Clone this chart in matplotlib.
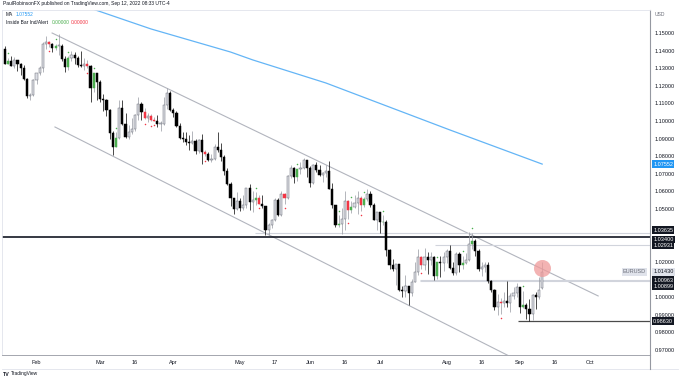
import matplotlib
matplotlib.use("Agg")
import matplotlib.pyplot as plt
from matplotlib.lines import Line2D
from matplotlib.patches import Rectangle

plt.rcParams["font.family"] = ["Liberation Sans", "DejaVu Sans"]

# --------------------------------------------------
# EURUSD daily, Jan 18 2022 -> Sep 12 2022 (bar index 0..169)
# --------------------------------------------------

opens = [
    1.1410, 1.1326, 1.1343, 1.1311, 1.1345, 1.1325, 1.1303, 1.1240, 1.1144, 1.1145,
    1.1235, 1.1272, 1.1301, 1.1440, 1.1450, 1.1440, 1.1415, 1.1425, 1.1425, 1.1350,
    1.1305, 1.1360, 1.1375, 1.1360, 1.1320, 1.1310, 1.1325, 1.1310, 1.1190, 1.1270,
    1.1220, 1.1125, 1.1120, 1.1065, 1.0930, 1.0855, 1.0905, 1.1075, 1.0985, 1.0910,
    1.0940, 1.0955, 1.1035, 1.1095, 1.1050, 1.1015, 1.1030, 1.1005, 1.1000, 1.0985,
    1.0985, 1.1090, 1.1160, 1.1065, 1.1045, 1.0970, 1.0905, 1.0900, 1.0880, 1.0875,
    1.0885, 1.0830, 1.0890, 1.0825, 1.0810, 1.0780, 1.0785, 1.0850, 1.0835, 1.0795,
    1.0715, 1.0640, 1.0560, 1.0500, 1.0545, 1.0505, 1.0525, 1.0620, 1.0540, 1.0550,
    1.0560, 1.0530, 1.0515, 1.0380, 1.0410, 1.0435, 1.0550, 1.0465, 1.0585, 1.0560,
    1.0690, 1.0735, 1.0680, 1.0725, 1.0735, 1.0780, 1.0735, 1.0650, 1.0750, 1.0720,
    1.0695, 1.0705, 1.0715, 1.0615, 1.0520, 1.0410, 1.0415, 1.0445, 1.0545, 1.0495,
    1.0510, 1.0535, 1.0565, 1.0520, 1.0555, 1.0585, 1.0520, 1.0440, 1.0485, 1.0425,
    1.0428, 1.0265, 1.0180, 1.0160, 1.0185, 1.0040, 1.0035, 1.0060, 1.0020, 1.0085,
    1.0140, 1.0225, 1.0180, 1.0230, 1.0210, 1.0225, 1.0120, 1.0200, 1.0195, 1.0225,
    1.0260, 1.0165, 1.0135, 1.0245, 1.0180, 1.0195, 1.0210, 1.0300, 1.0320, 1.0260,
    1.0160, 1.0170, 1.0180, 1.0090, 1.0040, 0.9945, 0.9970, 0.9965, 0.9975, 0.9965,
    1.0005, 1.0020, 1.0055, 0.9945, 0.9955, 0.9930, 0.9905, 1.0010, 1.0000, 1.0050,
]
highs = [
    1.1428, 1.1360, 1.1369, 1.1362, 1.1347, 1.1330, 1.1317, 1.1247, 1.1159, 1.1240,
    1.1273, 1.1310, 1.1449, 1.1484, 1.1453, 1.1443, 1.1440, 1.1495, 1.1440, 1.1370,
    1.1367, 1.1395, 1.1393, 1.1372, 1.1395, 1.1360, 1.1345, 1.1320, 1.1275, 1.1275,
    1.1235, 1.1152, 1.1125, 1.1070, 1.0945, 1.0935, 1.1120, 1.1120, 1.1045, 1.0980,
    1.1015, 1.1040, 1.1135, 1.1110, 1.1075, 1.1045, 1.1040, 1.1025, 1.1035, 1.1000,
    1.1135, 1.1185, 1.1170, 1.1075, 1.1055, 1.0990, 1.0935, 1.0935, 1.0920, 1.0945,
    1.0900, 1.0900, 1.0925, 1.0835, 1.0825, 1.0815, 1.0870, 1.0936, 1.0875, 1.0805,
    1.0735, 1.0655, 1.0565, 1.0595, 1.0560, 1.0580, 1.0620, 1.0640, 1.0605, 1.0595,
    1.0580, 1.0580, 1.0515, 1.0420, 1.0445, 1.0560, 1.0565, 1.0600, 1.0590, 1.0695,
    1.0750, 1.0740, 1.0730, 1.0765, 1.0787, 1.0780, 1.0745, 1.0755, 1.0765, 1.0750,
    1.0710, 1.0750, 1.0775, 1.0645, 1.0525, 1.0465, 1.0505, 1.0600, 1.0550, 1.0545,
    1.0580, 1.0605, 1.0575, 1.0570, 1.0615, 1.0605, 1.0535, 1.0485, 1.0485, 1.0465,
    1.0435, 1.0275, 1.0215, 1.0190, 1.0190, 1.0065, 1.0125, 1.0065, 1.0100, 1.0200,
    1.0270, 1.0235, 1.0280, 1.0255, 1.0255, 1.0235, 1.0200, 1.0235, 1.0255, 1.0275,
    1.0295, 1.0200, 1.0255, 1.0255, 1.0235, 1.0250, 1.0368, 1.0365, 1.0330, 1.0270,
    1.0200, 1.0200, 1.0200, 1.0095, 1.0045, 1.0015, 0.9995, 1.0030, 1.0090, 1.0025,
    1.0055, 1.0080, 1.0055, 1.0035, 0.9965, 0.9990, 1.0015, 1.0030, 1.0112, 1.0198,
]
lows = [
    1.1323, 1.1325, 1.1310, 1.1302, 1.1286, 1.1263, 1.1235, 1.1133, 1.1121, 1.1140,
    1.1213, 1.1262, 1.1280, 1.1411, 1.1420, 1.1390, 1.1403, 1.1375, 1.1341, 1.1280,
    1.1290, 1.1340, 1.1325, 1.1305, 1.1305, 1.1290, 1.1300, 1.1106, 1.1165, 1.1120,
    1.1110, 1.1058, 1.1030, 1.0900, 1.0806, 1.0850, 1.0900, 1.0980, 1.0905, 1.0900,
    1.0925, 1.0945, 1.1005, 1.1005, 1.1010, 1.0995, 1.0998, 1.1000, 1.0965, 1.0945,
    1.0975, 1.1070, 1.1055, 1.1025, 1.0965, 1.0900, 1.0880, 1.0865, 1.0835, 1.0870,
    1.0810, 1.0820, 1.0757, 1.0800, 1.0770, 1.0765, 1.0780, 1.0825, 1.0770, 1.0695,
    1.0635, 1.0515, 1.0470, 1.0495, 1.0490, 1.0495, 1.0505, 1.0495, 1.0485, 1.0525,
    1.0530, 1.0505, 1.0355, 1.0350, 1.0390, 1.0430, 1.0460, 1.0460, 1.0530, 1.0555,
    1.0675, 1.0645, 1.0660, 1.0700, 1.0730, 1.0680, 1.0625, 1.0640, 1.0710, 1.0690,
    1.0655, 1.0680, 1.0615, 1.0505, 1.0395, 1.0400, 1.0358, 1.0380, 1.0445, 1.0475,
    1.0505, 1.0470, 1.0490, 1.0510, 1.0545, 1.0510, 1.0440, 1.0380, 1.0365, 1.0410,
    1.0235, 1.0160, 1.0145, 1.0070, 1.0035, 0.9998, 0.9999, 0.9952, 1.0005, 1.0085,
    1.0125, 1.0160, 1.0155, 1.0130, 1.0180, 1.0095, 1.0100, 1.0115, 1.0145, 1.0195,
    1.0160, 1.0125, 1.0125, 1.0140, 1.0160, 1.0185, 1.0205, 1.0275, 1.0235, 1.0150,
    1.0120, 1.0140, 1.0080, 1.0030, 0.9925, 0.9900, 0.9905, 0.9945, 0.9945, 0.9915,
    0.9990, 1.0000, 0.9910, 0.9935, 0.9877, 0.9863, 0.9870, 0.9930, 0.9990, 1.0046,
]
closes = [
    1.1326, 1.1343, 1.1311, 1.1345, 1.1325, 1.1303, 1.1240, 1.1144, 1.1145, 1.1235,
    1.1272, 1.1301, 1.1440, 1.1450, 1.1440, 1.1415, 1.1425, 1.1425, 1.1350, 1.1305,
    1.1360, 1.1375, 1.1360, 1.1320, 1.1310, 1.1325, 1.1310, 1.1190, 1.1270, 1.1220,
    1.1125, 1.1120, 1.1065, 1.0930, 1.0855, 1.0905, 1.1075, 1.0985, 1.0910, 1.0940,
    1.0955, 1.1035, 1.1095, 1.1050, 1.1015, 1.1030, 1.1005, 1.1000, 1.0985, 1.0985,
    1.1090, 1.1160, 1.1065, 1.1045, 1.0970, 1.0905, 1.0900, 1.0880, 1.0875, 1.0885,
    1.0830, 1.0890, 1.0825, 1.0810, 1.0780, 1.0785, 1.0850, 1.0835, 1.0795, 1.0715,
    1.0640, 1.0560, 1.0500, 1.0545, 1.0505, 1.0525, 1.0620, 1.0540, 1.0550, 1.0560,
    1.0530, 1.0515, 1.0380, 1.0410, 1.0435, 1.0550, 1.0465, 1.0585, 1.0560, 1.0690,
    1.0735, 1.0680, 1.0725, 1.0735, 1.0780, 1.0735, 1.0650, 1.0750, 1.0720, 1.0695,
    1.0705, 1.0715, 1.0615, 1.0520, 1.0410, 1.0415, 1.0445, 1.0545, 1.0495, 1.0510,
    1.0535, 1.0565, 1.0520, 1.0555, 1.0585, 1.0520, 1.0440, 1.0485, 1.0425, 1.0428,
    1.0265, 1.0180, 1.0160, 1.0185, 1.0040, 1.0035, 1.0060, 1.0020, 1.0085, 1.0140,
    1.0225, 1.0180, 1.0230, 1.0210, 1.0225, 1.0120, 1.0200, 1.0195, 1.0225, 1.0260,
    1.0165, 1.0135, 1.0245, 1.0180, 1.0195, 1.0210, 1.0300, 1.0320, 1.0260, 1.0160,
    1.0170, 1.0180, 1.0090, 1.0040, 0.9945, 0.9970, 0.9965, 0.9975, 0.9965, 1.0005,
    1.0020, 1.0055, 0.9945, 0.9955, 0.9930, 0.9905, 1.0010, 1.0000, 1.0040, 1.0143,
]

tick_pos = [10, 30, 41, 53, 74, 85, 96, 107, 118, 139, 150, 162, 173, 184]
tick_labels = ["Feb", "Mar", "16", "Apr", "May", "17", "Jun", "16", "Jul",
               "Aug", "16", "Sep", "16", "Oct"]

price_ticks = [1.15, 1.14, 1.13, 1.12, 1.11, 1.10, 1.09, 1.08, 1.07, 1.06,
               1.05, 1.02, 1.00, 0.99, 0.98, 0.97]

# 200-day MA
ma_x = [23, 46, 71, 78, 101, 140, 169]
ma_y = [1.1665, 1.1523, 1.1392, 1.1347, 1.1216, 1.0949, 1.07552]

# channel drawn by the author
upper_x = [14.9, 186.6]
upper_y = [1.1500, 1.0006]
lower_x = [15.8, 160.0]
lower_y = [1.0966, 0.9652]

# horizontal levels and the bar where each starts
level_vals = [1.03635, 1.03400, 1.02931, 1.00963, 1.00899, 0.98630]
level_from = [78.7, -2, 135.3, 130.6, 130.6, 161.4]

last_price = 1.01430
circle_x = 169
circle_y = 1.0165

# --------------------------------------------------
# Figure
# --------------------------------------------------

W, H = 680, 380
fig = plt.figure(figsize=(W / 100, H / 100), dpi=100)
ax = fig.add_axes([2 / W, (H - 355) / H, 648 / W, 345 / H])

n = len(closes)
up_col, dn_col = "#4caf50", "#f23645"

for i in range(n):
    o, h, l, c = opens[i], highs[i], lows[i], closes[i]
    inside = i > 0 and h < highs[i - 1] and l > lows[i - 1]
    bull = c >= o

    if inside:
        face = up_col if bull else dn_col
        edge = face
        wick = "#9598a1"
    elif bull:
        face, edge, wick = "#dcdee4", "#6a6d78", "#9598a1"
    else:
        face, edge, wick = "#000000", "#000000", "#000000"

    ax.vlines(i, l, h, color=wick, linewidth=0.5, zorder=2)
    body = max(abs(c - o), 0.0004)
    ax.add_patch(Rectangle((i - 0.34, min(o, c)), 0.68, body,
                           facecolor=face, edgecolor=edge,
                           linewidth=0.35, zorder=3))

    if inside:
        if bull:
            ax.scatter(i, h + 0.0025, s=1.2, color=up_col, zorder=4, linewidths=0)
        else:
            ax.scatter(i, l - 0.0025, s=1.2, color=dn_col, zorder=4, linewidths=0)

# channel
ax.plot(upper_x, upper_y, color="#b2b5be", linewidth=0.8, zorder=1)
ax.plot(lower_x, lower_y, color="#b2b5be", linewidth=0.8, zorder=1)

# MA
ax.plot(ma_x, ma_y, color="#64b5f6", linewidth=0.9, zorder=1)

# horizontal levels
lvl_style = [("#d1d4dc", 0.8), ("#131722", 1.2), ("#d1d4dc", 0.8),
             ("#d1d4dc", 0.8), ("#d1d4dc", 0.8), ("#4a4a4a", 0.9)]
for v, x0, (col, lw) in zip(level_vals, level_from, lvl_style):
    ax.hlines(v, x0, 205, color=col, linewidth=lw, zorder=1)

# highlight circle
ax.scatter(circle_x, circle_y, s=150, color="#ef9a9a", alpha=0.75,
           linewidths=0, zorder=5)

ax.set_xlim(-0.85, 202.9)
ax.set_ylim(0.96705, 1.16307)

ax.set_xticks(tick_pos)
ax.set_xticklabels(tick_labels, fontsize=4.0, color="#131722")
ax.tick_params(axis="x", length=0, pad=3.5)

ax.yaxis.tick_right()
ax.set_yticks(price_ticks)
ax.set_yticklabels([f"{p:.5f}" for p in price_ticks], fontsize=4.0,
                   color="#131722")
ax.tick_params(axis="y", length=0, pad=3.5)

for s in ["top", "left"]:
    ax.spines[s].set_color("#e0e3eb")
    ax.spines[s].set_linewidth(0.6)
ax.spines["right"].set_color("#9598a1")
ax.spines["right"].set_linewidth(0.8)
ax.spines["bottom"].set_color("#9598a1")
ax.spines["bottom"].set_linewidth(0.6)

# --------------------------------------------------
# Price-axis labels
# --------------------------------------------------

trans = ax.get_yaxis_transform()
box = dict(boxstyle="square,pad=0.22", edgecolor="none")
label_nudge = [0.0017, -0.0013, 0.0, 0.0, -0.0030, 0.0]
for v, dv in zip(level_vals, label_nudge):
    ax.text(1.005, v + dv, f"{v:.5f}", transform=trans, fontsize=4.0,
            color="white", va="center", ha="left", clip_on=False, zorder=10,
            bbox={**box, "facecolor": "#131722"})

ax.text(1.005, ma_y[-1], f"{ma_y[-1]:.5f}", transform=trans, fontsize=4.0,
        color="white", va="center", ha="left", clip_on=False, zorder=10,
        bbox={**box, "facecolor": "#2196f3"})

ax.text(1.005, last_price, f"{last_price:.5f}", transform=trans, fontsize=4.0,
        color="#131722", va="center", ha="left", clip_on=False, zorder=10,
        bbox={**box, "facecolor": "#e0e3eb"})
ax.text(0.994, last_price, "EURUSD", transform=trans, fontsize=4.0,
        color="#6a6d78", va="center", ha="right", clip_on=False, zorder=10,
        bbox={**box, "facecolor": "#e0e3eb"})

fig.text(655 / W, 1 - 15 / H, "USD", fontsize=3.6, color="#6a6d78",
         va="center", ha="left")

# --------------------------------------------------
# Header / legend / footer
# --------------------------------------------------

fig.text(3 / W, 1 - 4 / H,
         "PaulRobinsonFX published on TradingView.com, Sep 12, 2022 08:33 UTC-4",
         fontsize=3.5, color="#131722", va="center", ha="left")

fig.text(6 / W, 1 - 15 / H, "MA", fontsize=3.5, color="#131722", va="center")
fig.text(16 / W, 1 - 15 / H, f"{ma_y[-1]:.5f}", fontsize=3.5,
         color="#2196f3", va="center")
fig.text(6 / W, 1 - 22 / H, "Inside Bar Ind/Alert", fontsize=3.5,
         color="#131722", va="center")
fig.text(52 / W, 1 - 22 / H, "0.00000", fontsize=3.5, color=up_col,
         va="center")
fig.text(71 / W, 1 - 22 / H, "0.00000", fontsize=3.5, color=dn_col,
         va="center")

fig.text(3 / W, 1 - 374 / H, "TV", fontsize=3.8, fontweight="bold",
         color="#131722", va="center")
fig.text(11 / W, 1 - 374 / H, "TradingView", fontsize=3.5, color="#131722",
         va="center")

fig.add_artist(Line2D([2 / W, 678 / W], [1 - 369 / H, 1 - 369 / H],
                      color="#e0e3eb", linewidth=0.6))
fig.add_artist(Line2D([650 / W, 650 / W], [1 - 355 / H, 1 - 369 / H],
                      color="#9598a1", linewidth=0.8))

fig.savefig("out.png", dpi=100)
